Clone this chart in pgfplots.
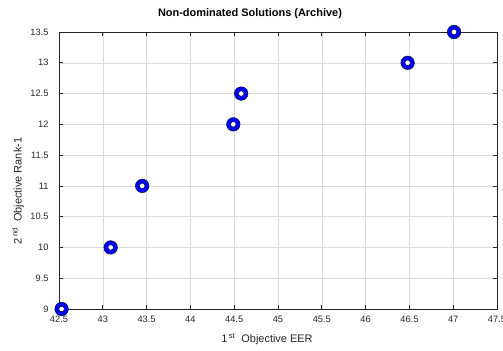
\documentclass[border=0pt]{standalone}
\usepackage{pgfplots}
\pgfplotsset{compat=1.18}
\usepackage{fontspec}
\setmainfont{Liberation Sans}
\definecolor{axgray}{gray}{0.15}
\pgfplotstableread{
x y
42.53 9
43.09 10
43.45 11
44.49 12
44.58 12.5
46.48 13
47.01 13.5
}\archive
\begin{document}
\begin{tikzpicture}
\path[use as bounding box] (-59bp,-42bp) rectangle (444bp,309bp);
\begin{axis}[
  at={(0,0)}, anchor=south west,
  scale only axis,
  width=438bp, height=277bp,
  xmin=42.5, xmax=47.5, ymin=9, ymax=13.5,
  xtick={42.5,43,...,47.5},
  ytick={9,9.5,...,13.5},
  /pgf/number format/assume math mode=true,
  tick label style={font=\fontsize{9.3}{10}\selectfont, text=axgray},
  xticklabel style={yshift=-4bp},
  yticklabel style={xshift=-7bp},
  tick align=inside, tick pos=both,
  major tick length=4bp,
  axis line style={axgray, line width=0.6bp},
  tick style={axgray, line width=0.6bp},
  grid=major,
  major grid style={gray!30, line width=0.5bp},
  title={\textbf{Non-dominated Solutions (Archive)}},
  title style={font=\fontsize{11}{13}\selectfont, at={([yshift=12bp]rel axis cs:0.436,1)}, anchor=center},
  xlabel={1\textsuperscript{\,st}\ \ Objective EER},
  ylabel={2\textsuperscript{\,nd}\ \ Objective Rank-1},
  label style={font=\fontsize{11}{13}\selectfont, text=axgray},
  xlabel style={at={([yshift=-30bp]rel axis cs:0.475,0)}, anchor=center},
  ylabel style={at={([xshift=-41bp]rel axis cs:0,0.426)}, anchor=center},
  clip=false,
]
\addplot[only marks, mark=*, mark size=6.8bp, draw=none, mark options={fill=blue, draw=none}] table {\archive};
\addplot[only marks, mark=*, mark size=2.7bp, draw=none, mark options={fill=white, draw=none}] table {\archive};
\end{axis}
\end{tikzpicture}
\end{document}
